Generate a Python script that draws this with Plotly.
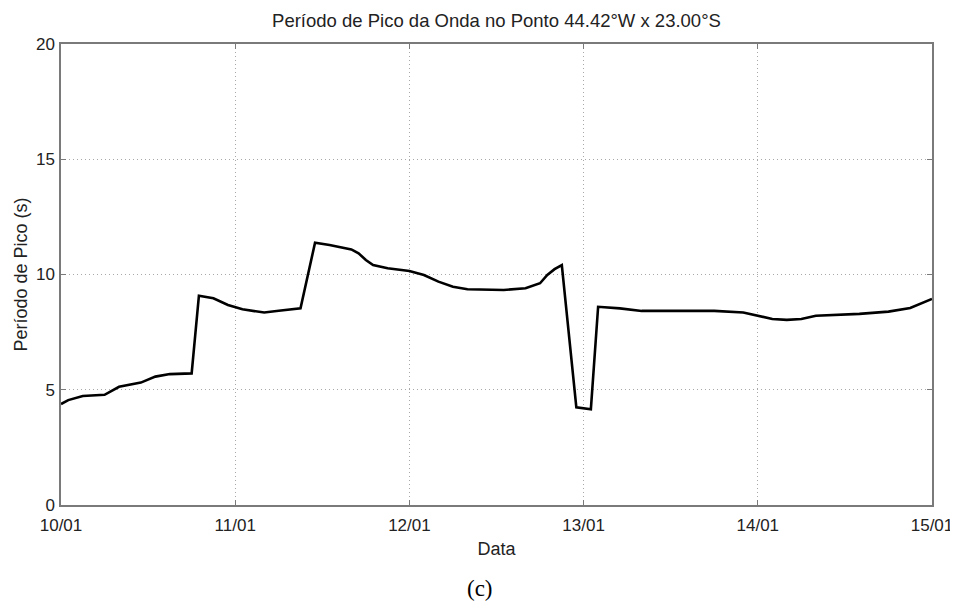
import pandas as pd
import plotly.graph_objects as go

# hours after 10/01 00:00
hours = [0, 1, 3, 6, 8, 11, 13, 15, 18, 19, 21, 23, 25, 28, 30, 33, 35, 37, 40, 41,
         42, 43, 45, 48, 50, 52, 54, 56, 61, 64, 66, 67, 68, 69, 71, 73, 74, 77, 80,
         90, 94, 96, 98, 100, 102, 104, 110, 114, 117, 120]
period = [4.38, 4.55, 4.73, 4.78, 5.13, 5.31, 5.57, 5.68, 5.71, 9.08, 8.97, 8.68, 8.49,
          8.35, 8.43, 8.53, 11.38, 11.28, 11.09, 10.92, 10.63, 10.41, 10.27, 10.15, 9.98,
          9.69, 9.47, 9.36, 9.33, 9.40, 9.62, 9.98, 10.23, 10.41, 4.24, 4.15, 8.60, 8.53,
          8.42, 8.42, 8.35, 8.20, 8.07, 8.03, 8.07, 8.21, 8.29, 8.39, 8.55, 8.94]
tick_labels = ["10/01", "11/01", "12/01", "13/01", "14/01", "15/01"]
y_ticks = [0, 5, 10, 15, 20]

start = pd.Timestamp("2000-01-10")
x = [start + pd.Timedelta(hours=h) for h in hours]
tick_vals = [start + pd.Timedelta(days=i) for i in range(len(tick_labels))]

FONT = "Liberation Sans"
# the page body adds an 8px offset; the figure is sized to fill the rest of the window
W, H = 950, 593
ML, MR, MT, MB = 53, 26, 36, 96
plot_h = H - MT - MB
plot_w = W - ML - MR

fig = go.Figure()
fig.add_trace(go.Scatter(x=x, y=period, mode="lines",
                         line=dict(color="black", width=2.6), showlegend=False))

axis_common = dict(showline=True, linecolor="#7a7a7a", linewidth=1.5, mirror="ticks",
                   ticks="inside", ticklen=5, tickcolor="#7a7a7a", tickwidth=1,
                   showgrid=True, gridcolor="#a8a8a8", griddash="1px,3px", gridwidth=1,
                   zeroline=False, automargin=False,
                   tickfont=dict(family=FONT, size=17, color="#222"))

fig.update_layout(
    width=W, height=H,
    margin=dict(l=ML, r=MR, t=MT, b=MB),
    paper_bgcolor="white", plot_bgcolor="white",
    title=dict(text="Período de Pico da Onda no Ponto 44.42°W x 23.00°S",
               x=0.5, xref="paper", xanchor="center",
               y=1 - 13 / H, yref="container", yanchor="middle",
               font=dict(family=FONT, size=18.5, color="#222")),
    xaxis=dict(range=[tick_vals[0], tick_vals[-1]], tickvals=tick_vals, ticktext=tick_labels,
               ticklabelstandoff=4,
               title=dict(text="Data", font=dict(family=FONT, size=18, color="#222"),
                          standoff=8),
               **axis_common),
    yaxis=dict(range=[0, 20], tickvals=y_ticks, ticklabelstandoff=1,
               title=dict(text="Período de Pico (s)",
                          font=dict(family=FONT, size=18, color="#222"),
                          standoff=4),
               **axis_common),
)
fig.add_annotation(text="(c)", xref="paper", yref="paper", x=(472 - ML) / plot_w,
                   y=-(69) / plot_h, yanchor="top", xanchor="center", showarrow=False,
                   font=dict(family="Liberation Serif", size=23, color="black"))
fig.write_html("out.html")
